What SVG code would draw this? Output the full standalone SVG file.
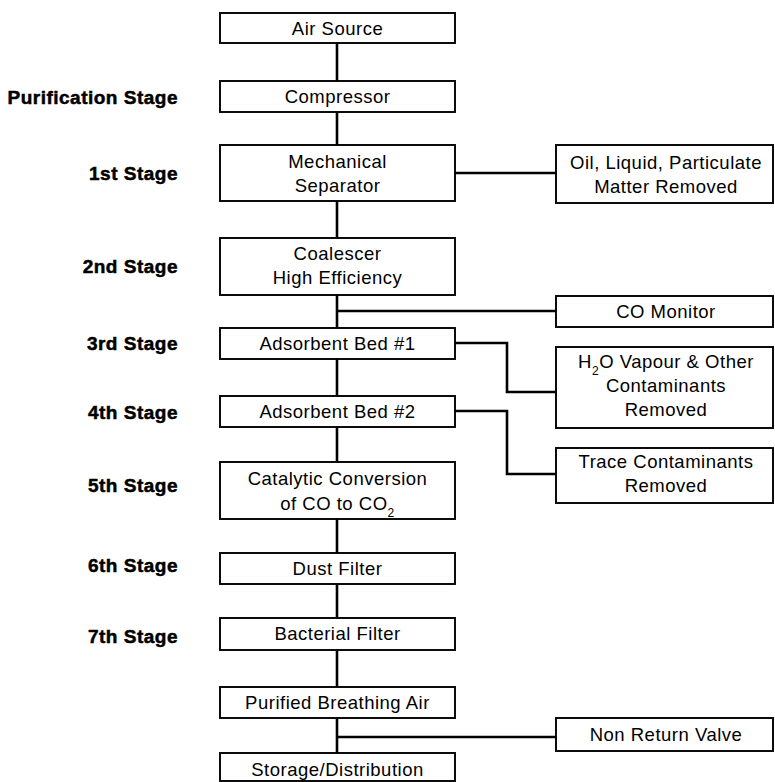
<svg xmlns="http://www.w3.org/2000/svg" width="775" height="782" viewBox="0 0 775 782">
  <style>
    .box { fill: #ffffff; stroke: #000000; stroke-width: 1.9; }
    .wire { fill: none; stroke: #000000; stroke-width: 2.6; stroke-linejoin: miter; }
    .txt { font-family: "Liberation Sans", Arial, Helvetica, sans-serif; font-size: 18.5px; letter-spacing: 0.5px; fill: #000000; text-anchor: middle; }
    .stage { font-family: "Liberation Sans", Arial, Helvetica, sans-serif; font-size: 19px; font-weight: bold; letter-spacing: 0.5px; fill: #000000; stroke: #000000; stroke-width: 0.5; text-anchor: end; }
    .sub { font-size: 12px; }
  </style>
  <rect width="775" height="782" fill="#ffffff"/>

  <!-- stage labels -->
  <g id="stage-labels">
    <text class="stage" x="178" y="104">Purification Stage</text>
    <text class="stage" x="178" y="180">1st Stage</text>
    <text class="stage" x="178" y="273">2nd Stage</text>
    <text class="stage" x="178" y="350">3rd Stage</text>
    <text class="stage" x="178" y="419">4th Stage</text>
    <text class="stage" x="178" y="492">5th Stage</text>
    <text class="stage" x="178" y="572">6th Stage</text>
    <text class="stage" x="178" y="643">7th Stage</text>
  </g>

  <!-- connectors -->
  <g id="connectors">
    <line class="wire" x1="337" y1="43" x2="337" y2="81"/>
    <line class="wire" x1="337" y1="112" x2="337" y2="145"/>
    <line class="wire" x1="337" y1="201" x2="337" y2="238"/>
    <line class="wire" x1="337" y1="295" x2="337" y2="328"/>
    <line class="wire" x1="337" y1="359" x2="337" y2="396"/>
    <line class="wire" x1="337" y1="427" x2="337" y2="462"/>
    <line class="wire" x1="337" y1="519" x2="337" y2="553"/>
    <line class="wire" x1="337" y1="584" x2="337" y2="618"/>
    <line class="wire" x1="337" y1="650" x2="337" y2="687"/>
    <line class="wire" x1="337" y1="718" x2="337" y2="753"/>
    <!-- side branches -->
    <line class="wire" x1="455" y1="173" x2="556" y2="173"/>
    <line class="wire" x1="337" y1="311" x2="556" y2="311"/>
    <polyline class="wire" points="455,343 507,343 507,392 556,392"/>
    <polyline class="wire" points="455,411 507,411 507,474 556,474"/>
    <line class="wire" x1="337" y1="737" x2="556" y2="737"/>
  </g>

  <!-- main column -->
  <g id="air-source">
    <rect class="box" x="220" y="13" width="235" height="30"/>
    <text class="txt" x="337.5" y="34.5">Air Source</text>
  </g>
  <g id="compressor">
    <rect class="box" x="220" y="81" width="235" height="31"/>
    <text class="txt" x="337.5" y="103">Compressor</text>
  </g>
  <g id="mechanical-separator">
    <rect class="box" x="220" y="145" width="235" height="56"/>
    <text class="txt" x="337.5" y="168">Mechanical</text>
    <text class="txt" x="337.5" y="192">Separator</text>
  </g>
  <g id="coalescer">
    <rect class="box" x="220" y="238" width="235" height="57"/>
    <text class="txt" x="337.5" y="260">Coalescer</text>
    <text class="txt" x="337.5" y="284">High Efficiency</text>
  </g>
  <g id="adsorbent-bed-1">
    <rect class="box" x="220" y="328" width="235" height="31"/>
    <text class="txt" x="337.5" y="350">Adsorbent Bed #1</text>
  </g>
  <g id="adsorbent-bed-2">
    <rect class="box" x="220" y="396" width="235" height="31"/>
    <text class="txt" x="337.5" y="418">Adsorbent Bed #2</text>
  </g>
  <g id="catalytic-conversion">
    <rect class="box" x="220" y="462" width="235" height="57"/>
    <text class="txt" x="337.5" y="485">Catalytic Conversion</text>
    <text class="txt" x="337.5" y="510">of CO to CO<tspan class="sub" baseline-shift="sub">2</tspan></text>
  </g>
  <g id="dust-filter">
    <rect class="box" x="220" y="553" width="235" height="31"/>
    <text class="txt" x="337.5" y="575">Dust Filter</text>
  </g>
  <g id="bacterial-filter">
    <rect class="box" x="220" y="618" width="235" height="32"/>
    <text class="txt" x="337.5" y="640">Bacterial Filter</text>
  </g>
  <g id="purified-air">
    <rect class="box" x="220" y="687" width="235" height="31"/>
    <text class="txt" x="337.5" y="709">Purified Breathing Air</text>
  </g>
  <g id="storage-distribution">
    <rect class="box" x="220" y="753" width="235" height="28"/>
    <text class="txt" x="337.5" y="776">Storage/Distribution</text>
  </g>

  <!-- side boxes -->
  <g id="oil-removed">
    <rect class="box" x="556" y="145" width="217" height="58"/>
    <text class="txt" x="666" y="169">Oil, Liquid, Particulate</text>
    <text class="txt" x="666" y="193">Matter Removed</text>
  </g>
  <g id="co-monitor">
    <rect class="box" x="556" y="296" width="217" height="31"/>
    <text class="txt" x="666" y="318">CO Monitor</text>
  </g>
  <g id="h2o-removed">
    <rect class="box" x="556" y="347" width="217" height="81"/>
    <text class="txt" x="666" y="368">H<tspan class="sub" baseline-shift="sub">2</tspan>O Vapour &amp; Other</text>
    <text class="txt" x="666" y="392">Contaminants</text>
    <text class="txt" x="666" y="416">Removed</text>
  </g>
  <g id="trace-removed">
    <rect class="box" x="556" y="448" width="217" height="55"/>
    <text class="txt" x="666" y="468">Trace Contaminants</text>
    <text class="txt" x="666" y="492">Removed</text>
  </g>
  <g id="non-return-valve">
    <rect class="box" x="556" y="718" width="217" height="33"/>
    <text class="txt" x="666" y="741">Non Return Valve</text>
  </g>
</svg>
